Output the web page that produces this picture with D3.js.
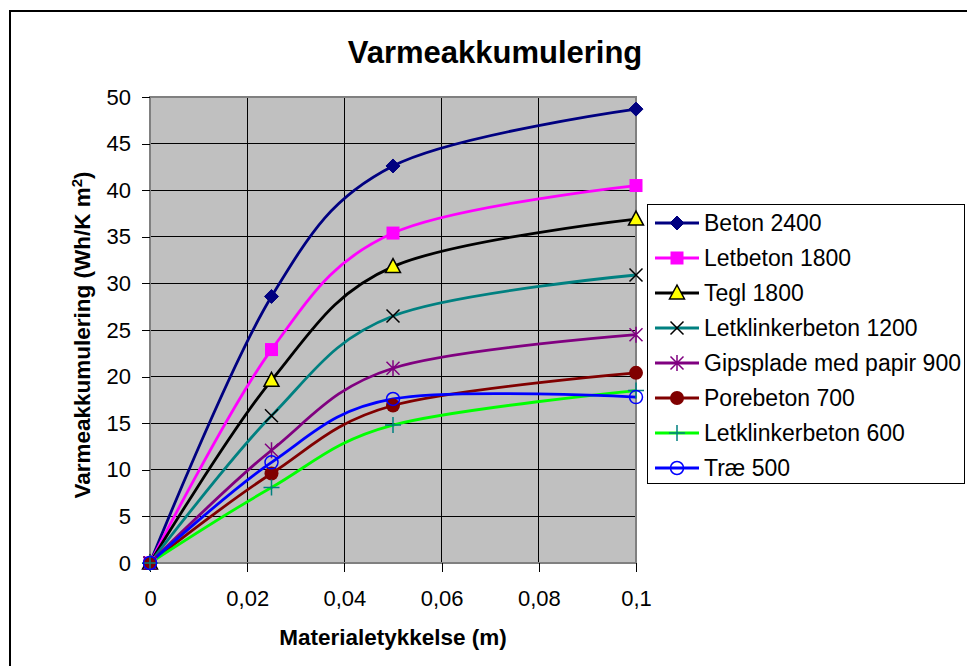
<!DOCTYPE html>
<html><head><meta charset="utf-8">
<script src="https://cdn.jsdelivr.net/npm/d3@7"></script>
<style>
body{margin:0;background:#fff;}
svg{display:block;font-family:"Liberation Sans",Arial,sans-serif;}
</style></head>
<body><svg id="c" width="967" height="666"></svg>
<script>
const thickness = [0, 0.025, 0.05, 0.1];
const seriesNames = ["Beton 2400","Letbeton 1800","Tegl 1800","Letklinkerbeton 1200","Gipsplade med papir 900","Porebeton 700","Letklinkerbeton 600","Træ 500"];
const beton2400 = [0, 28.6, 42.6, 48.7];
const letbeton1800 = [0, 22.9, 35.4, 40.5];
const tegl1800 = [0, 19.6, 31.8, 36.9];
const letklinker1200 = [0, 15.8, 26.5, 30.9];
const gips900 = [0, 12.1, 20.9, 24.5];
const porebeton700 = [0, 9.6, 16.9, 20.4];
const letklinker600 = [0, 8.1, 14.8, 18.5];
const trae500 = [0, 10.8, 17.6, 17.8];
const xTicks = [0, 0.02, 0.04, 0.06, 0.08, 0.1];
const yTicks = [0,5,10,15,20,25,30,35,40,45,50];

const seriesValues = [beton2400, letbeton1800, tegl1800, letklinker1200, gips900, porebeton700, letklinker600, trae500];
const lineColors = ["#000080","#FF00FF","#000000","#008080","#800080","#800000","#00FF00","#0000FF"];
const markerTypes = ["diamond","square","triangle","x","star","dot","plus","circle"];

const svg = d3.select("#c");
// outer chart border
svg.append("rect").attr("x",10).attr("y",11).attr("width",1000).attr("height",700)
  .attr("fill","#fff").attr("stroke","#000").attr("stroke-width",2);

const x = d3.scaleLinear().domain([0,0.1]).range([150,636]);
const y = d3.scaleLinear().domain([0,50]).range([563,97]);

// plot area
svg.append("rect").attr("x",150).attr("y",97).attr("width",486).attr("height",466).attr("fill","#C0C0C0");
const grid = svg.append("g").attr("shape-rendering","crispEdges");
yTicks.slice(1).forEach(t=>grid.append("line").attr("x1",150).attr("x2",636).attr("y1",y(t)).attr("y2",y(t)).attr("stroke","#000"));
xTicks.slice(1,-1).forEach(t=>grid.append("line").attr("y1",97).attr("y2",563).attr("x1",x(t)).attr("x2",x(t)).attr("stroke","#000"));
svg.append("rect").attr("x",150).attr("y",97).attr("width",486).attr("height",466).attr("fill","none").attr("stroke","#808080").attr("stroke-width",1.5).attr("shape-rendering","crispEdges");

// axes
const fmt = d=> d===0 ? "0" : String(+d.toFixed(2)).replace(".",",");
const ax = svg.append("g").attr("transform","translate(0,563)")
  .call(d3.axisBottom(x).tickValues(xTicks).tickFormat(fmt).tickSize(9).tickPadding(18));
const ay = svg.append("g").attr("transform","translate(150,0)")
  .call(d3.axisLeft(y).tickValues(yTicks).tickSize(8).tickPadding(11));
[ax,ay].forEach(a=>{
  a.select(".domain").attr("stroke","#000");
  a.selectAll(".tick line").attr("stroke","#000").attr("shape-rendering","crispEdges");
  a.selectAll("text").attr("font-size",22).attr("fill","#000").attr("font-family","Liberation Sans, Arial, sans-serif");
});
ax.select(".domain").remove();
ay.select(".domain").remove();

// titles
svg.append("text").attr("x",495).attr("y",63).attr("text-anchor","middle").attr("font-size",31).attr("font-weight","bold").text("Varmeakkumulering");
svg.append("text").attr("x",393).attr("y",645).attr("text-anchor","middle").attr("font-size",22.5).attr("font-weight","bold").text("Materialetykkelse (m)");
const yt = svg.append("text").attr("transform","translate(90,335) rotate(-90)").attr("text-anchor","middle").attr("font-size",22.5).attr("font-weight","bold");
yt.append("tspan").text("Varmeakkumulering (Wh/K m");
yt.append("tspan").attr("baseline-shift","super").attr("font-size",15).text("2");
yt.append("tspan").text(")");

// markers
function drawMarker(g, type, color){
  switch(type){
    case "diamond": g.append("path").attr("d","M0,-7L7,0L0,7L-7,0Z").attr("fill",color).attr("stroke",color); break;
    case "square": g.append("rect").attr("x",-6.5).attr("y",-6.5).attr("width",13).attr("height",13).attr("fill","#FF00FF"); break;
    case "triangle": g.append("path").attr("d","M0,-8L7.5,6L-7.5,6Z").attr("fill","#FFFF00").attr("stroke","#000").attr("stroke-width",1.5); break;
    case "x": g.append("path").attr("d","M-6.5,-6.5L6.5,6.5M-6.5,6.5L6.5,-6.5").attr("stroke","#000").attr("stroke-width",1.5); break;
    case "star": g.append("path").attr("d","M-6.5,-6.5L6.5,6.5M-6.5,6.5L6.5,-6.5M0,-8L0,8").attr("stroke","#800080").attr("stroke-width",1.5); break;
    case "dot": g.append("circle").attr("r",7).attr("fill","#800000"); break;
    case "plus": g.append("path").attr("d","M-8,0L8,0M0,-8L0,8").attr("stroke","#008080").attr("stroke-width",1.5); break;
    case "circle": g.append("circle").attr("r",6.5).attr("fill","none").attr("stroke","#0000FF").attr("stroke-width",1.5); break;
  }
}

const line = d3.line().x((d,i)=>x(thickness[i])).y(d=>y(d)).curve(d3.curveCardinal.tension(0));
seriesValues.forEach((vals,si)=>{
  svg.append("path").attr("d",line(vals)).attr("fill","none").attr("stroke",lineColors[si]).attr("stroke-width",2.8);
});
seriesValues.forEach((vals,si)=>{
  vals.forEach((v,i)=>{
    const g = svg.append("g").attr("transform",`translate(${x(thickness[i])},${y(v)})`);
    drawMarker(g, markerTypes[si], lineColors[si]);
  });
});

// legend
const lg = svg.append("g");
lg.append("rect").attr("x",647.5).attr("y",204.5).attr("width",317).attr("height",279).attr("fill","#fff").attr("stroke","#000").attr("stroke-width",1);
seriesNames.forEach((name,i)=>{
  const cy = 223 + i*35;
  lg.append("line").attr("x1",655).attr("x2",699).attr("y1",cy).attr("y2",cy).attr("stroke",lineColors[i]).attr("stroke-width",2.8);
  drawMarker(lg.append("g").attr("transform",`translate(677,${cy})`), markerTypes[i], lineColors[i]);
  lg.append("text").attr("x",704).attr("y",cy+8).attr("font-size",23).attr("fill","#000").text(name);
});
</script></body></html>
